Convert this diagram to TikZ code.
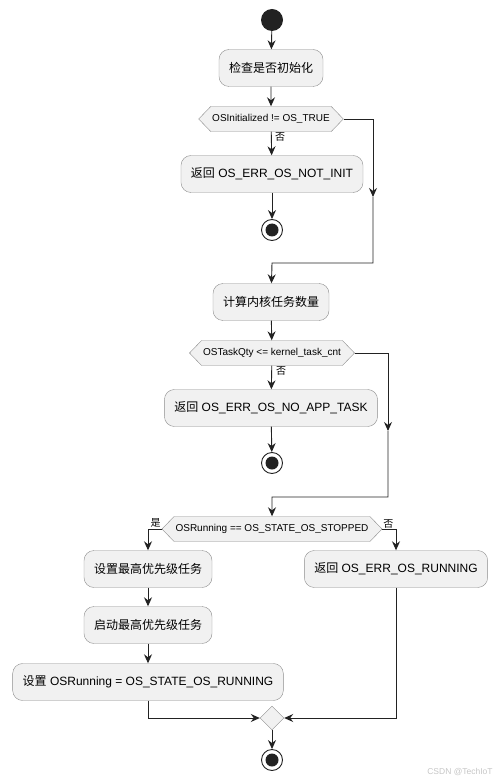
\documentclass[tikz,border=0pt]{standalone}
\usepackage{fontspec}
\setmainfont{Liberation Sans}
\newfontfamily\cjk{Noto Sans CJK SC}
\usetikzlibrary{arrows.meta,shapes.symbols,shapes.geometric}

\definecolor{boxfill}{HTML}{F1F1F1}
\definecolor{boxline}{HTML}{8C8C8C}
\definecolor{flowline}{HTML}{222222}
\newcommand{\zh}[1]{{\cjk #1}}

\tikzset{
  action/.style={draw=boxline, fill=boxfill, rounded corners=10pt,
    minimum height=37pt, inner xsep=10pt, font=\fontsize{12}{14}\selectfont},
  test/.style={signal, signal to=west and east, signal pointer angle=92,
    draw=boxline, fill=boxfill, minimum height=25pt, inner xsep=1.5pt,
    font=\fontsize{10}{12}\selectfont},
  merge/.style={diamond, draw=boxline, fill=boxfill, minimum size=24pt, inner sep=0pt},
  startdot/.style={circle, fill=flowline, minimum size=22pt, inner sep=0pt},
  stopdot/.style={circle, draw=flowline, fill=white, minimum size=21pt, inner sep=0pt,
    line width=0.9pt,
    path picture={\fill[flowline] (path picture bounding box.center) circle (6.5pt);}},
  flow/.style={draw=flowline, line width=0.9pt,
    -{Stealth[length=9pt,width=8pt,inset=3pt]}},
  tag/.style={font=\fontsize{10}{12}\selectfont, inner sep=1pt},
}

\begin{document}
\begin{tikzpicture}[x=1pt, y=-1pt]

  \useasboundingbox (0,0) rectangle (500,783);

  % --- init check ---
  \node[startdot] (start) at (272, 20) {};
  \node[action] (chk) at (271, 68) {\zh{检查是否初始化}};
  \node[test] (isinit) at (271, 119) {OSInitialized != OS\_TRUE};
  \node[action] (notinit) at (272, 174) {\zh{返回} OS\_ERR\_OS\_NOT\_INIT};
  \node[stopdot] (stop1) at (272, 230) {};
  \coordinate (by1) at (373, 197);
  \coordinate (join1) at (272, 263);

  % --- task count ---
  \node[action] (count) at (271, 302) {\zh{计算内核任务数量}};
  \node[test] (isqty) at (272, 353) {OSTaskQty <= kernel\_task\_cnt};
  \node[action] (noapp) at (271, 408) {\zh{返回} OS\_ERR\_OS\_NO\_APP\_TASK};
  \node[stopdot] (stop2) at (272, 463) {};
  \coordinate (by2) at (388, 431);
  \coordinate (join2) at (272, 497);

  % --- running state ---
  \node[test] (isstop) at (272, 529) {OSRunning == OS\_STATE\_OS\_STOPPED};
  \node[action] (setprio) at (148, 569) {\zh{设置最高优先级任务}};
  \node[action] (running) at (396, 569) {\zh{返回} OS\_ERR\_OS\_RUNNING};
  \node[action] (startprio) at (148, 625) {\zh{启动最高优先级任务}};
  \node[action] (setrun) at (148, 682) {\zh{设置} OSRunning = OS\_STATE\_OS\_RUNNING};
  \node[merge] (merge) at (272, 718) {};
  \node[stopdot] (stop3) at (272, 760) {};

  % --- flows ---
  \draw[flow] (start) -- (chk);
  \draw[flow] (chk) -- (isinit);
  \draw[flow] (isinit) -- (notinit);
  \draw[flow] (notinit) -- (stop1);
  \node[tag, anchor=north west] (no1) at ([xshift=3pt]isinit.south) {\zh{否}};
  \draw[flow] (isinit.east) -| (by1);
  \draw[flow] (by1) |- (join1) -- (count);

  \draw[flow] (count) -- (isqty);
  \draw[flow] (isqty) -- (noapp);
  \draw[flow] (noapp) -- (stop2);
  \node[tag, anchor=north west] (no2) at ([xshift=3pt]isqty.south) {\zh{否}};
  \draw[flow] (isqty.east) -| (by2);
  \draw[flow] (by2) |- (join2) -- (isstop);

  \draw[flow] (isstop.west) -| (setprio);
  \node[tag, anchor=south east] (yes3) at (isstop.west) {\zh{是}};
  \draw[flow] (isstop.east) -| (running);
  \node[tag, anchor=south west] (no3) at (isstop.east) {\zh{否}};
  \draw[flow] (setprio) -- (startprio);
  \draw[flow] (startprio) -- (setrun);
  \draw[flow] (setrun) |- (merge);
  \draw[flow] (running) |- (merge);
  \draw[flow] (merge) -- (stop3);

  % --- watermark ---
  \node[text=gray!45, font=\fontsize{8.5}{10}\selectfont] (mark) at (460, 772) {CSDN @TechIoT};

\end{tikzpicture}
\end{document}
